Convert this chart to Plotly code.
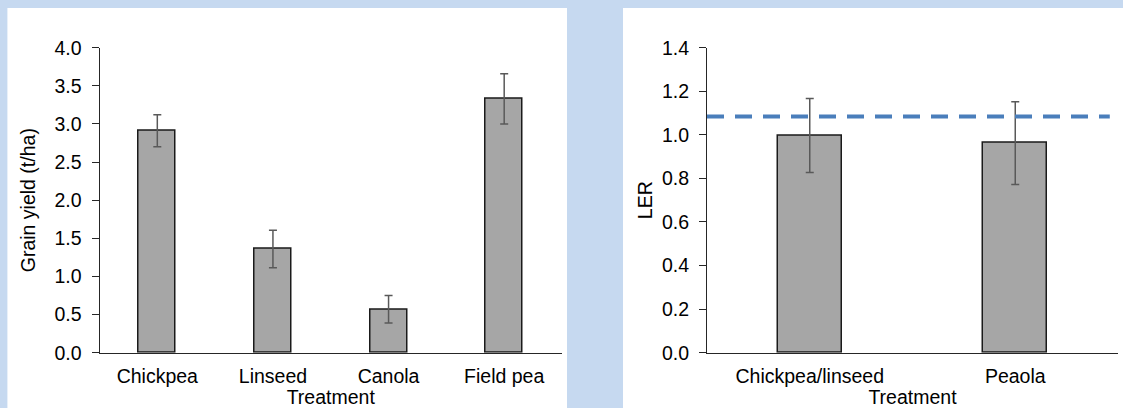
import plotly.graph_objects as go

# ---- data ----
yield_categories = ["Chickpea", "Linseed", "Canola", "Field pea"]
yield_values = [2.91, 1.36, 0.57, 3.33]
yield_errors = [0.21, 0.245, 0.18, 0.33]

ler_categories = ["Chickpea/linseed", "Peaola"]
ler_values = [0.997, 0.962]
ler_errors = [0.17, 0.19]
ler_reference = 1.084

yield_ticks = [0.0, 0.5, 1.0, 1.5, 2.0, 2.5, 3.0, 3.5, 4.0]
ler_ticks = [0.0, 0.2, 0.4, 0.6, 0.8, 1.0, 1.2, 1.4]

W, H = 1123, 408
FONT = "Liberation Sans, Arial, sans-serif"
FS = 19.5
BAR = "#A6A6A6"
ERR = "#595959"
AX = "#262626"

fig = go.Figure()
fig.add_trace(go.Bar(
    x=yield_categories, y=yield_values, width=0.32,
    marker=dict(color=BAR, line=dict(color="#1a1a1a", width=1.5)),
    error_y=dict(type="data", array=yield_errors, color=ERR, thickness=1.5, width=4),
    xaxis="x", yaxis="y", showlegend=False))
fig.add_trace(go.Bar(
    x=ler_categories, y=ler_values, width=0.31,
    marker=dict(color=BAR, line=dict(color="#1a1a1a", width=1.5)),
    error_y=dict(type="data", array=ler_errors, color=ERR, thickness=1.5, width=4),
    xaxis="x2", yaxis="y2", showlegend=False))

py = lambda p: 1 - p / H
px = lambda p: p / W
ydom = [py(352.7), py(47.7)]

axis_common = dict(showgrid=False, zeroline=False, showline=True, linecolor=AX, linewidth=1,
                   automargin=False,
                   tickfont=dict(family=FONT, size=FS, color="#000"),
                   title_font=dict(family=FONT, size=FS, color="#000"))

fig.update_layout(
    template="none",
    width=W, height=H, margin=dict(l=0, r=0, t=0, b=0, autoexpand=False),
    paper_bgcolor="#C6D9F0", plot_bgcolor="white",
    font=dict(family=FONT, size=FS, color="#000"),
    bargap=0,
    xaxis=dict(domain=[px(99.5), px(562)], anchor="y", ticks="", type="category",
               ticklabelstandoff=6,
               title=dict(text="Treatment", standoff=0), **axis_common),
    yaxis=dict(domain=ydom, anchor="x", range=[0, 4], tickvals=yield_ticks,
               tickformat=".1f", ticks="outside", ticklen=7, tickcolor=AX,
               ticklabelstandoff=6,
               title=dict(text="Grain yield (t/ha)", standoff=13), **axis_common),
    xaxis2=dict(domain=[px(707), px(1118)], anchor="y2", ticks="", type="category",
                ticklabelstandoff=6,
                title=dict(text="Treatment", standoff=0), **axis_common),
    yaxis2=dict(domain=ydom, anchor="x2", range=[0, 1.4], tickvals=ler_ticks,
                tickformat=".1f", ticks="outside", ticklen=7, tickcolor=AX,
                ticklabelstandoff=6,
                title=dict(text="LER", standoff=4), **axis_common),
    shapes=[
        dict(type="rect", xref="paper", yref="paper", x0=px(7.4), x1=px(567), y0=0, y1=py(8),
             fillcolor="white", line=dict(width=0), layer="below"),
        dict(type="rect", xref="paper", yref="paper", x0=px(623), x1=1, y0=0, y1=py(8),
             fillcolor="white", line=dict(width=0), layer="below"),
        dict(type="line", xref="x2 domain", yref="y2", x0=0, x1=0.98,
             y0=ler_reference, y1=ler_reference,
             line=dict(color="#4A7EBB", width=4, dash="17px,11px")),
    ],
)

fig.write_html("out.html", config={"displayModeBar": False},
               post_script="document.body.style.margin='0';document.body.style.overflow='hidden';")
